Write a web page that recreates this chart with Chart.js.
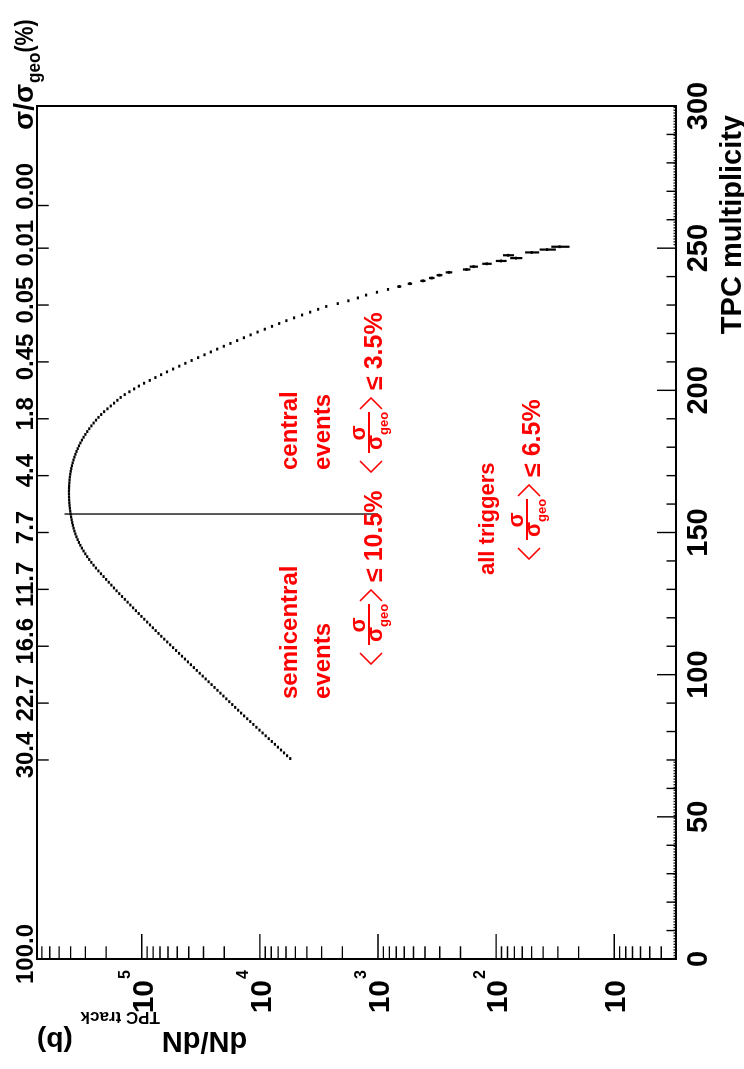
<!DOCTYPE html>
<html>
<head>
<meta charset="utf-8">
<script src="https://cdn.jsdelivr.net/npm/chart.js@4"></script>
<style>
  html, body { margin: 0; padding: 0; background: #fff; width: 744px; height: 1069px; overflow: hidden; }
  /* the figure is laid out in landscape and turned a quarter turn counter-clockwise */
  #stage { position: absolute; left: 0; top: 0; width: 1069px; height: 744px;
           transform-origin: 0 0; transform: translate(0px, 1069px) rotate(-90deg); background: #fff; }
</style>
</head>
<body>
<div id="stage"><canvas id="c"></canvas></div>
<script>
// ---- histogram: TPC track multiplicity, bin centres and dN/dN (b)
const binCenters = [
  70.5, 71.5, 72.5, 73.5, 74.5, 75.5, 76.5, 77.5, 78.5, 79.5, 80.5, 81.5, 82.5, 83.5, 84.5, 85.5,
  86.5, 87.5, 88.5, 89.5, 90.5, 91.5, 92.5, 93.5, 94.5, 95.5, 96.5, 97.5, 98.5, 99.5,
  100.5, 101.5, 102.5, 103.5, 104.5, 105.5, 106.5, 107.5, 108.5, 109.5, 110.5, 111.5, 112.5, 113.5,
  114.5, 115.5, 116.5, 117.5, 118.5, 119.5, 120.5, 121.5, 122.5, 123.5, 124.5, 125.5, 126.5, 127.5, 128.5,
  129.5, 130.5, 131.5, 132.5, 133.5, 134.5, 135.5, 136.5, 137.5, 138.5, 139.5, 140.5, 141.5, 142.5,
  143.5, 144.5, 145.5, 146.5, 147.5, 148.5, 149.5, 150.5, 151.5, 152.5, 153.5, 154.5, 155.5, 156.5,
  157.5, 158.5, 159.5, 160.5, 161.5, 162.5, 163.5, 164.5, 165.5, 166.5, 167.5, 168.5, 169.5,
  170.5, 171.5, 172.5, 173.5, 174.5, 175.5, 176.5, 177.5, 178.5, 179.5, 180.5, 181.5, 182.5, 183.5,
  184.5, 185.5, 186.5, 187.5, 188.5, 189.5, 190.5, 191.5, 192.5, 193.5, 194.5, 195.5, 196.5, 197.5,
  198.5, 199.5, 200.5, 201.5, 202.5, 203.5, 204.5, 205.5, 206.5, 207.5, 208.5, 209.5, 210.5, 211.5,
  212.5, 213.5, 214.5, 215.5, 216.5, 217.5, 218.5, 219.5, 220.5, 221.5, 222.5, 223.5, 224.5, 225.5,
  226.5, 227.5, 228.5, 229.5, 230.5, 231.5, 232.5, 233.5, 234.5, 235.5, 236.5, 237.5, 238.5, 239.5,
  240.5, 241.5, 242.5, 243.5, 244.5, 245.5, 246.5, 247.5, 248.5, 249.5, 250.5
];
const dNdN = [
  5530, 5880, 6240, 6620, 7030, 7460, 7920, 8410, 8930, 9480, 10070, 10690, 11350, 12050, 12790, 13580,
  14410, 15260, 16170, 17120, 18140, 19220, 20350, 21560, 22840, 24190, 25630, 27150, 28760, 30460,
  32270, 34190, 36210, 38360, 40630, 43040, 45600, 48300, 51170, 54200, 57410, 60820, 64430, 68250,
  72100, 76200, 80500, 85100, 89900, 95100, 100500, 106100, 112000, 118200, 124800, 131700, 139000, 146800, 154900,
  163300, 171800, 180700, 190100, 200000, 210400, 221300, 232600, 244100, 255600, 267000, 278300, 289400, 300300,
  310800, 321000, 330800, 340100, 348800, 356900, 364400, 371100, 377200, 382700, 387600, 392000, 396100, 399800,
  403000, 405800, 408200, 410000, 411500, 412400, 412900, 412900, 412400, 411500, 410000, 408200, 405800,
  402700, 399000, 394800, 389800, 384200, 378000, 371400, 364200, 356500, 348300, 339600, 330400, 320600, 310500,
  299900, 289100, 278000, 266700, 255300, 243800, 232300, 220300, 208000, 195000, 182800, 171400, 160700, 150700,
  139300, 127100, 115900, 105700, 95500, 85500, 76600, 68500, 61100, 54200, 48100, 42700, 37800, 33300,
  29400, 26000, 22960, 20180, 17740, 15560, 13650, 11970, 10450, 9080, 7890, 6860, 5960, 5130,
  4390, 3750, 3210, 2740, 2190, 1780, 1480, 1260, 1020, 822, 661, 537, 417, 351,
  302, 251, 178, 155, 120, 91, 68, 79, 50, 37, 29
];
// statistical errors of the sparsely filled high-multiplicity bins
const tailCenters = [236.5, 237.5, 238.5, 239.5, 240.5, 241.5, 242.5, 243.5, 244.5, 245.5, 246.5, 247.5, 248.5, 249.5, 250.5];
const tailErrors  = [26, 23, 21, 19, 17, 16, 13, 12.5, 11, 9.5, 8, 8.5, 6.8, 5.8, 5.1];

// central / semicentral boundary marker
const boundaryX = [156.5, 156.5];
const boundaryY = [1000, 450000];

// axes
const multRange = [0, 300];
const dndnRange = [3, 770000];
const multMajorTicks = [0, 50, 100, 150, 200, 250, 300];
const decadeExponents = [1, 2, 3, 4, 5];
// upper scale: fraction of the geometric cross section
const sigmaLabels  = ['100.0', '30.4', '22.7', '16.6', '11.7', '7.7', '4.4', '1.8', '0.45', '0.05', '0.01', '0.00'];
const sigmaLabelAt = [0, 70, 90, 110, 130, 150, 170, 190, 210, 230, 250, 270];
const sigmaTickAt  = [70, 90, 110, 130, 150, 170, 190, 210, 230, 250, 265];

// event class annotations
const classNames = [['semicentral', 'events'], ['central', 'events'], ['all triggers']];
const classCuts  = ['10.5%', '3.5%', '6.5%'];

const FONT = '"Liberation Sans", Arial, Helvetica, sans-serif';
const bold = s => 'bold ' + s + 'px ' + FONT;

function put(ctx, s, x, y, size, o = {}) {
  ctx.save();
  ctx.font = bold(size);
  ctx.textAlign = o.align || 'left';
  ctx.textBaseline = 'alphabetic';
  ctx.fillStyle = o.color || '#000';
  ctx.translate(x, y);
  if (o.rot) ctx.rotate(o.rot);
  if (o.sx) ctx.scale(o.sx, 1);
  ctx.fillText(s, 0, 0);
  const w = ctx.measureText(s).width * (o.sx || 1);
  ctx.restore();
  return w;
}

function measure(ctx, s, size) {
  ctx.save(); ctx.font = bold(size);
  const w = ctx.measureText(s).width; ctx.restore(); return w;
}

// < sigma / sigma_geo > <= value
function sigmaCut(ctx, x0, base, value) {
  const red = '#ff0000';
  ctx.save();
  ctx.strokeStyle = red; ctx.fillStyle = red; ctx.lineWidth = 1.6;
  ctx.beginPath();
  ctx.moveTo(x0 + 12, base - 22); ctx.lineTo(x0 + 1, base - 11); ctx.lineTo(x0 + 12, base);
  ctx.moveTo(x0 + 64, base - 22); ctx.lineTo(x0 + 75, base - 11); ctx.lineTo(x0 + 64, base);
  ctx.stroke();
  ctx.fillRect(x0 + 20, base - 14, 41, 2);
  ctx.restore();
  put(ctx, 'σ', x0 + 40, base - 17, 22, { align: 'center', color: red });
  put(ctx, 'σ', x0 + 23, base, 22, { color: red });
  put(ctx, 'geo', x0 + 38, base + 6, 13, { color: red });
  put(ctx, '≤ ' + value, x0 + 83, base, 25, { color: red });
}

const decor = {
  id: 'decor',
  beforeDatasetsDraw(chart) {
    const ctx = chart.ctx, xs = chart.scales.x, ys = chart.scales.y;
    // error bars of the tail bins
    ctx.save();
    ctx.strokeStyle = '#000'; ctx.lineWidth = 2.2;
    tailCenters.forEach((c, i) => {
      const v = dNdN[binCenters.indexOf(c)];
      const px = xs.getPixelForValue(c);
      ctx.beginPath();
      ctx.moveTo(px, ys.getPixelForValue(v + tailErrors[i]));
      ctx.lineTo(px, ys.getPixelForValue(v - tailErrors[i]));
      ctx.stroke();
    });
    ctx.restore();
  },
  afterDraw(chart) {
    const ctx = chart.ctx, xs = chart.scales.x, ys = chart.scales.y, a = chart.chartArea;
    ctx.save();
    ctx.strokeStyle = '#000';
    // frame
    ctx.lineWidth = 2;
    ctx.strokeRect(a.left, a.top, a.right - a.left, a.bottom - a.top);
    // empty bins sit on the axis
    ctx.lineWidth = 1.6;
    ctx.setLineDash([1.4, 1.4]);
    ctx.strokeStyle = '#222';
    const firstEdge = binCenters[0] - 0.5, lastEdge = binCenters[binCenters.length - 1] + 0.5;
    ctx.beginPath();
    ctx.moveTo(xs.getPixelForValue(multRange[0]), a.bottom - 1.8);
    ctx.lineTo(xs.getPixelForValue(firstEdge), a.bottom - 1.8);
    ctx.moveTo(xs.getPixelForValue(lastEdge), a.bottom - 1.8);
    ctx.lineTo(xs.getPixelForValue(multRange[1]), a.bottom - 1.8);
    ctx.stroke();
    ctx.setLineDash([]);
    ctx.strokeStyle = '#000';

    // multiplicity axis ticks
    ctx.lineWidth = 1.4;
    ctx.beginPath();
    for (let v = multRange[0]; v <= multRange[1]; v += 10) {
      const px = xs.getPixelForValue(v);
      const len = multMajorTicks.includes(v) ? 19 : 9.5;
      ctx.moveTo(px, a.bottom); ctx.lineTo(px, a.bottom - len);
    }
    // log axis ticks
    for (let e = 0; e <= 5; e++) {
      for (let m = 1; m <= 9; m++) {
        const v = m * Math.pow(10, e);
        if (v < dndnRange[0] || v > dndnRange[1]) continue;
        const py = ys.getPixelForValue(v);
        const len = m === 1 ? 25 : 12.7;
        ctx.moveTo(a.left, py); ctx.lineTo(a.left + len, py);
      }
    }
    // sigma/sigma_geo ticks along the upper edge
    sigmaTickAt.forEach(v => {
      const px = xs.getPixelForValue(v);
      ctx.moveTo(px, a.top); ctx.lineTo(px, a.top + 11.7);
    });
    ctx.stroke();
    ctx.restore();

    // multiplicity labels
    multMajorTicks.forEach(v => put(ctx, String(v), xs.getPixelForValue(v), a.bottom + 31, 29, { align: 'center' }));
    put(ctx, 'TPC multiplicity', a.right - 9, 741, 29, { align: 'right' });

    // log labels
    decadeExponents.forEach(e => {
      const py = ys.getPixelForValue(Math.pow(10, e));
      put(ctx, '10', a.left - 21, py + 11, 30, { align: 'right' });
      if (e > 1) put(ctx, String(e), a.left - 20, py - 11.5, 16);
    });
    // log axis title, reading along the axis
    {
      const w1 = measure(ctx, 'dN/dN', 29), w2 = measure(ctx, 'TPC track', 17), w3 = measure(ctx, ' (b)', 28);
      const total = w1 + 2 + w2 + w3;
      const base = 37, start = a.top + total;
      put(ctx, 'dN/dN', base, start, 29, { rot: -Math.PI / 2 });
      ctx.save(); ctx.translate(base, start); ctx.rotate(-Math.PI / 2);
      ctx.font = bold(17); ctx.fillStyle = '#000'; ctx.fillText('TPC track', w1 + 2, 20);
      ctx.font = bold(28); ctx.fillText(' (b)', w1 + 2 + w2, 0);
      ctx.restore();
    }

    // sigma/sigma_geo labels
    sigmaLabels.forEach((s, i) => put(ctx, s, xs.getPixelForValue(sigmaLabelAt[i]) + 5, a.top - 4, 24, { align: 'center' }));
    {
      let x = 939;
      x += put(ctx, 'σ/σ', x, 33, 28);
      x += put(ctx, 'geo', x + 1, 40, 18, { sx: 0.95 }) + 1;
      put(ctx, '(%)', x, 33, 26, { sx: 0.82 });
    }

    // event classes
    const red = '#ff0000';
    put(ctx, classNames[0][0], 370, 297, 24, { color: red });
    put(ctx, classNames[0][1], 370, 330, 24, { color: red });
    sigmaCut(ctx, 404, 382, classCuts[0]);
    put(ctx, classNames[1][0], 599, 297, 24, { color: red });
    put(ctx, classNames[1][1], 599, 330, 24, { color: red });
    sigmaCut(ctx, 596, 382, classCuts[1]);
    put(ctx, classNames[2][0], 494, 494, 22, { color: red });
    sigmaCut(ctx, 509, 540, classCuts[2]);
  }
};

const points = binCenters.map((c, i) => ({ x: c, y: dNdN[i] }));

new Chart(document.getElementById('c'), {
  type: 'scatter',
  data: {
    datasets: [
      {
        data: points,
        showLine: false,
        pointStyle: 'line',
        pointRadius: 1.42,
        pointBorderWidth: 2.2,
        borderColor: '#000',
        backgroundColor: '#000'
      },
      {
        type: 'line',
        data: boundaryX.map((x, i) => ({ x, y: boundaryY[i] })),
        borderColor: '#000',
        borderWidth: 1.3,
        pointRadius: 0,
        fill: false
      }
    ]
  },
  options: {
    responsive: true,
    maintainAspectRatio: false,
    animation: false,
    events: [],
    layout: { padding: { left: 110, right: 106, top: 37, bottom: 68 } },
    plugins: { legend: { display: false }, tooltip: { enabled: false } },
    scales: {
      x: { type: 'linear', min: multRange[0], max: multRange[1], display: false },
      y: { type: 'logarithmic', min: dndnRange[0], max: dndnRange[1], display: false }
    }
  },
  plugins: [decor]
});
</script>
</body>
</html>
